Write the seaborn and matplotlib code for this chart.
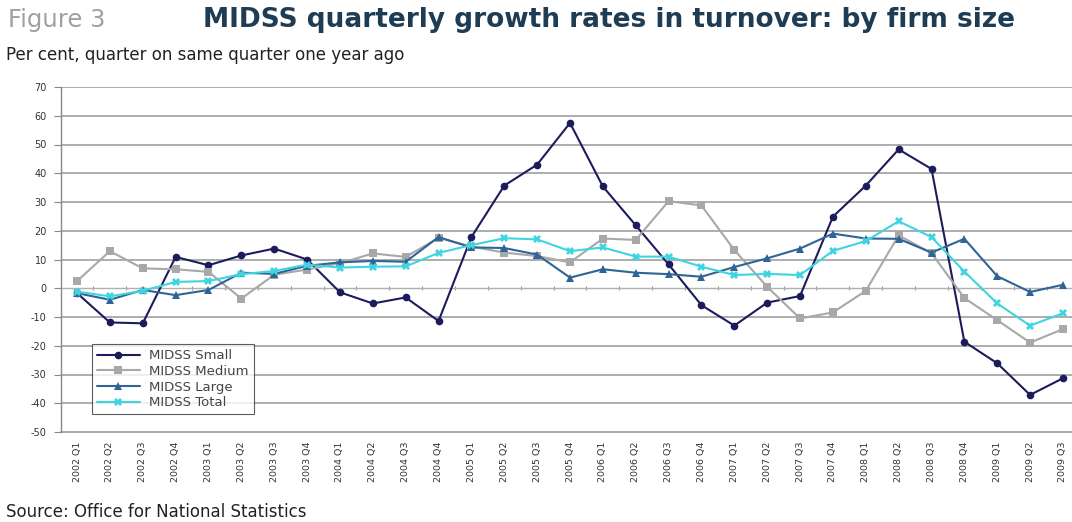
import matplotlib
matplotlib.use("Agg")
import matplotlib.pyplot as plt
import seaborn as sns
import pandas as pd

quarters = [f"{y} Q{q}" for y in range(2002, 2010) for q in range(1, 5)][:31]

small = [-1.7, -11.9, -12.2, 10.9, 8.0, 11.4, 13.8, 10.0, -1.4, -5.3, -3.2, -11.4,
         17.8, 35.7, 43.0, 57.5, 35.4, 21.9, 8.3, -5.9, -13.0, -5.0, -2.7, 24.9,
         35.7, 48.3, 41.5, -18.6, -26.1, -37.1, -31.3]
medium = [2.5, 12.9, 6.9, 6.6, 5.7, -3.6, 4.7, 6.5, 8.7, 12.1, 10.9, 17.5,
          14.5, 12.4, 11.2, 9.0, 17.3, 16.8, 30.3, 28.8, 13.3, 0.5, -10.5, -8.4,
          -0.9, 18.4, 12.2, -3.4, -11.1, -18.9, -14.2]
large = [-1.7, -4.0, -0.6, -2.4, -0.6, 5.4, 5.0, 7.8, 9.0, 9.5, 9.2, 17.8,
         14.2, 14.0, 11.7, 3.7, 6.6, 5.4, 4.9, 4.0, 7.4, 10.4, 13.8, 19.0,
         17.3, 17.2, 12.4, 17.2, 4.2, -1.3, 1.2]
total = [-1.2, -2.8, -0.9, 2.2, 2.5, 4.9, 6.0, 8.2, 7.2, 7.5, 7.6, 12.3,
         15.0, 17.4, 17.0, 12.9, 14.2, 11.0, 11.0, 7.5, 4.6, 5.0, 4.6, 13.0,
         16.4, 23.3, 17.8, 5.8, -5.3, -13.0, -8.7]

series_names = ["MIDSS Small", "MIDSS Medium", "MIDSS Large", "MIDSS Total"]
yticks = list(range(-50, 71, 10))

rows = []
for name, vals in zip(series_names, [small, medium, large, total]):
    for q, v in zip(quarters, vals):
        rows.append({"quarter": q, "value": v, "series": name})
df = pd.DataFrame(rows)

sns.set_style("white")
plt.rcParams["font.family"] = ["DejaVu Sans"]

W, H = 1072, 522
fig = plt.figure(figsize=(W / 100, H / 100), dpi=100)
left_px, right_px, top_px, bot_px = 60.6, 1079.4, 87, 432
ax = fig.add_axes([left_px / W, (H - bot_px) / H, (right_px - left_px) / W, (bot_px - top_px) / H])

palette = {"MIDSS Small": "#1c1c5c", "MIDSS Medium": "#a8a8a8",
           "MIDSS Large": "#2f6496", "MIDSS Total": "#3fd4e0"}
markers = {"MIDSS Small": "o", "MIDSS Medium": "s",
           "MIDSS Large": "^", "MIDSS Total": "X"}

sns.lineplot(data=df, x="quarter", y="value", hue="series", style="series",
             palette=palette, markers=markers, dashes=False, linewidth=1.5,
             markersize=5.5, markeredgewidth=0, ax=ax, sort=False, zorder=3)

ax.set_xlim(-0.5, len(quarters) - 0.5)
ax.set_ylim(-50, 70)
ax.set_yticks(yticks)
ax.set_yticklabels([str(t) for t in yticks], fontsize=7, color="#333333")
ax.set_xticks(range(len(quarters)))
ax.set_xticklabels(quarters, rotation=90, fontsize=6.8, color="#333333")
ax.tick_params(axis="x", length=0, pad=7)
ax.tick_params(axis="y", length=5, width=0.8, color="#888888", left=True, direction="out", pad=5)
ax.set_xlabel("")
ax.set_ylabel("")
for t in yticks[1:]:
    if t != 0:
        ax.axhline(t, color="#a0a0a0", lw=1.2, zorder=1)
ax.axhline(0, color="#b0b0b0", lw=1.0, zorder=1)
for s in ["top", "right", "bottom"]:
    ax.spines[s].set_visible(False)
ax.spines["left"].set_color("#888888")
ax.spines["left"].set_linewidth(1.0)
ax.axhline(-50, color="#a0a0a0", lw=1.3, zorder=1, clip_on=False)

sec = ax.secondary_xaxis(50 / 120)
sec.set_xticks([i + 0.5 for i in range(len(quarters) - 1)])
sec.set_xticklabels([])
sec.tick_params(length=3, width=0.8, color="#999999", direction="inout")
sec.spines["bottom"].set_visible(False)
sec.spines["top"].set_visible(False)

leg = ax.legend(loc="upper left", bbox_to_anchor=((92 - left_px) / (right_px - left_px), (bot_px - 344) / (bot_px - top_px)),
                fontsize=9.5, frameon=True, fancybox=False, edgecolor="#333333",
                borderpad=0.4, labelspacing=0.2, handlelength=3.2, handletextpad=0.7,
                borderaxespad=0, title=None, labelcolor="#444444")
leg.get_frame().set_linewidth(0.8)

fig.text(8 / W, 1 - 20 / H, "Figure 3", fontsize=17.5, color="#a0a0a0",
         va="center", ha="left")
fig.text(203 / W, 1 - 20 / H,
         "MIDSS quarterly growth rates in turnover: by firm size",
         fontsize=19, color="#1e3d55", fontweight="bold", va="center", ha="left")
fig.text(6 / W, 1 - 55 / H, "Per cent, quarter on same quarter one year ago",
         fontsize=12, color="#222222", va="center", ha="left")
fig.text(6 / W, 1 - 512 / H, "Source: Office for National Statistics",
         fontsize=12, color="#222222", va="center", ha="left")

fig.savefig("out.png", dpi=100)
